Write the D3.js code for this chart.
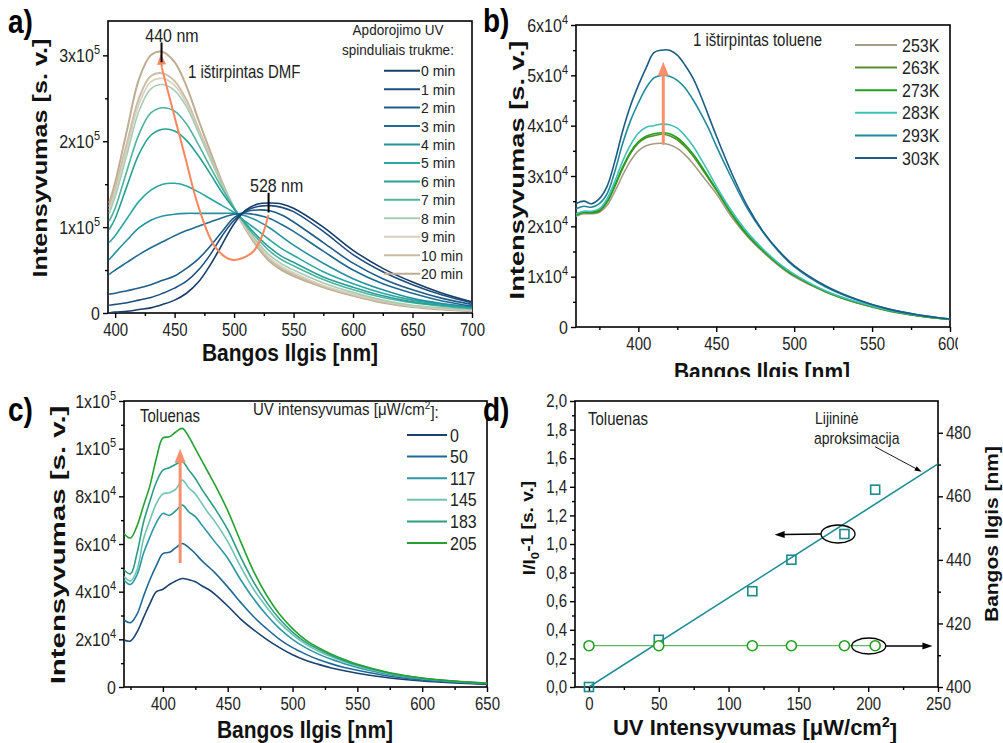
<!DOCTYPE html>
<html><head><meta charset="utf-8">
<script src="https://cdn.jsdelivr.net/npm/d3@7"></script>
<style>
body{margin:0;background:#fff;}
svg{font-family:Arial,"Liberation Sans",sans-serif;}
</style></head><body>
<svg id="chart" width="1003" height="743"></svg>
<script>
// ---------------- DATA ----------------
// Panel a: emission spectra in DMF vs UV treatment time (values x1e5)
const A_WL = [395,400,410,420,430,440,450,460,470,480,490,500,510,520,530,540,550,575,600,625,650,675,700];
const A_NAMES = ["0 min","1 min","2 min","3 min","4 min","5 min","6 min","7 min","8 min","9 min","10 min","20 min"];
const A_0  = [0.00,0.01,0.02,0.04,0.06,0.10,0.15,0.23,0.36,0.56,0.80,1.04,1.20,1.27,1.28,1.27,1.22,1.00,0.73,0.52,0.36,0.23,0.13];
const A_1  = [0.09,0.10,0.12,0.15,0.18,0.23,0.29,0.37,0.50,0.68,0.90,1.08,1.19,1.24,1.25,1.23,1.18,0.95,0.68,0.48,0.33,0.21,0.12];
const A_2  = [0.22,0.23,0.26,0.29,0.33,0.38,0.43,0.52,0.63,0.78,0.95,1.11,1.18,1.20,1.19,1.14,1.06,0.82,0.58,0.40,0.27,0.17,0.10];
const A_3  = [0.45,0.50,0.59,0.68,0.76,0.83,0.90,0.96,1.01,1.06,1.11,1.15,1.16,1.14,1.10,1.03,0.95,0.72,0.50,0.34,0.23,0.14,0.08];
const A_4  = [0.62,0.70,0.85,0.99,1.08,1.13,1.15,1.16,1.16,1.16,1.16,1.16,1.13,1.07,0.99,0.89,0.79,0.58,0.40,0.27,0.17,0.11,0.07];
const A_5  = [0.82,0.90,1.10,1.30,1.43,1.50,1.51,1.48,1.41,1.33,1.25,1.17,1.06,0.96,0.85,0.75,0.67,0.48,0.34,0.23,0.15,0.10,0.06];
const A_6  = [0.97,1.10,1.48,1.85,2.07,2.14,2.12,2.01,1.83,1.62,1.40,1.21,1.04,0.89,0.76,0.66,0.59,0.42,0.30,0.20,0.13,0.09,0.06];
const A_7  = [1.07,1.22,1.66,2.08,2.33,2.39,2.35,2.20,1.96,1.70,1.45,1.22,1.02,0.86,0.72,0.62,0.55,0.39,0.27,0.18,0.12,0.08,0.05];
const A_8  = [1.16,1.35,1.85,2.35,2.61,2.66,2.59,2.40,2.10,1.79,1.49,1.23,1.00,0.82,0.67,0.57,0.50,0.35,0.24,0.15,0.09,0.06,0.04];
const A_9  = [1.20,1.40,1.92,2.43,2.69,2.73,2.65,2.44,2.12,1.80,1.49,1.22,0.99,0.80,0.64,0.54,0.47,0.32,0.22,0.14,0.08,0.05,0.03];
const A_10 = [1.24,1.45,1.98,2.50,2.76,2.79,2.70,2.48,2.15,1.82,1.50,1.22,0.98,0.78,0.62,0.52,0.45,0.31,0.21,0.13,0.08,0.05,0.03];
const A_20 = [1.28,1.52,2.13,2.72,3.00,3.04,2.92,2.64,2.25,1.88,1.52,1.22,0.97,0.76,0.60,0.50,0.43,0.30,0.20,0.12,0.07,0.04,0.02];
const A_SERIES = [A_0,A_1,A_2,A_3,A_4,A_5,A_6,A_7,A_8,A_9,A_10,A_20];
const A_ARROW_WL = [528.8,523.3,514.9,498,484,470,458.8,447.6,439.2,438.4];
const A_ARROW_V  = [1.14,0.89,0.70,0.62,0.77,1.24,1.82,2.41,2.86,2.95];
const A_X_TICKS = [400,450,500,550,600,650,700];
const A_X_MINOR = [425,475,525,575,625,675];
const A_Y_TICKS = [0,1,2,3];
const A_Y_LABELS = ["0","1x10^5","2x10^5","3x10^5"];
const A_Y_MINOR = [0.5,1.5,2.5];

// Panel b: spectra in toluene vs temperature (values x1e4)
const B_WL = [360,365,370,375,380,385,390,395,400,405,410,415,420,425,430,435,440,445,450,460,470,480,490,500,520,540,560,580,600];
const B_NAMES = ["253K","263K","273K","283K","293K","303K"];
const B_253 = [2.20,2.25,2.25,2.28,2.42,2.70,3.02,3.30,3.50,3.60,3.64,3.65,3.62,3.55,3.42,3.25,3.05,2.85,2.65,2.18,1.80,1.49,1.22,1.00,0.70,0.48,0.32,0.22,0.15];
const B_263 = [2.25,2.27,2.26,2.30,2.48,2.80,3.15,3.45,3.65,3.76,3.80,3.83,3.80,3.72,3.58,3.40,3.18,2.95,2.72,2.23,1.82,1.51,1.24,1.02,0.70,0.48,0.33,0.22,0.15];
const B_273 = [2.22,2.28,2.28,2.32,2.50,2.82,3.18,3.48,3.68,3.79,3.84,3.86,3.84,3.76,3.62,3.44,3.22,2.98,2.74,2.25,1.84,1.52,1.25,1.03,0.71,0.49,0.33,0.22,0.15];
const B_283 = [2.25,2.30,2.30,2.35,2.55,2.90,3.30,3.62,3.85,3.97,4.00,4.03,4.02,3.95,3.80,3.60,3.35,3.08,2.80,2.30,1.88,1.55,1.27,1.05,0.72,0.50,0.34,0.23,0.16];
const B_293 = [2.35,2.40,2.38,2.45,2.65,3.10,3.65,4.10,4.45,4.75,4.95,5.00,4.98,4.90,4.75,4.52,4.25,3.95,3.60,2.95,2.35,1.88,1.50,1.20,0.80,0.54,0.36,0.24,0.16];
const B_303 = [2.45,2.50,2.45,2.55,2.80,3.30,3.90,4.40,4.80,5.15,5.45,5.50,5.50,5.40,5.20,4.95,4.60,4.20,3.80,3.05,2.40,1.90,1.52,1.22,0.82,0.55,0.36,0.24,0.16];
const B_SERIES = [B_253,B_263,B_273,B_283,B_293,B_303];
const B_ARROW_WL = [416,416];
const B_ARROW_V = [3.62,5.27];
const B_X_TICKS = [400,450,500,550,600];
const B_X_MINOR = [375,425,475,525,575];
const B_Y_TICKS = [0,1,2,3,4,5,6];
const B_Y_LABELS = ["0","1x10^4","2x10^4","3x10^4","4x10^4","5x10^4","6x10^4"];
const B_Y_MINOR = [0.5,1.5,2.5,3.5,4.5,5.5];

// Panel c: spectra in toluene vs UV intensity (values x1e4)
const C_WL = [370,375,380,385,390,395,400,405,410,415,420,425,430,435,440,450,460,470,480,490,500,510,520,530,540,550,575,600,625,650];
const C_NAMES = ["0","50","117","145","183","205"];
const C_0   = [1.97,1.93,2.30,2.90,3.50,4.00,4.10,4.30,4.45,4.55,4.50,4.42,4.25,4.10,3.90,3.40,2.85,2.40,2.00,1.65,1.35,1.12,0.95,0.80,0.68,0.58,0.38,0.25,0.17,0.11];
const C_50  = [2.81,2.70,3.05,3.80,4.50,5.10,5.60,5.65,5.85,6.02,5.85,5.60,5.30,5.05,4.80,4.20,3.55,2.95,2.45,2.00,1.65,1.38,1.15,0.97,0.82,0.70,0.45,0.29,0.20,0.13];
const C_117 = [4.49,4.30,4.70,5.60,6.30,6.90,7.28,7.20,7.40,7.63,7.35,7.15,6.80,6.45,6.10,5.40,4.50,3.70,3.02,2.45,2.00,1.65,1.38,1.16,0.98,0.82,0.52,0.34,0.22,0.15];
const C_145 = [4.63,4.45,4.90,6.20,7.00,7.70,8.10,8.15,8.30,8.68,8.35,8.10,7.70,7.30,6.95,6.10,5.05,4.10,3.35,2.70,2.20,1.80,1.50,1.27,1.06,0.88,0.56,0.36,0.24,0.16];
const C_183 = [4.91,4.75,5.60,6.90,7.80,8.60,9.10,9.20,9.35,9.45,9.10,8.75,8.30,7.90,7.50,6.60,5.45,4.40,3.55,2.85,2.30,1.88,1.58,1.32,1.10,0.92,0.58,0.37,0.24,0.16];
const C_205 = [6.44,6.25,6.75,7.60,8.45,9.60,10.45,10.50,10.70,10.85,10.50,10.00,9.50,9.00,8.50,7.40,6.10,4.85,3.85,3.05,2.45,1.98,1.65,1.38,1.15,0.95,0.60,0.38,0.25,0.17];
const C_SERIES = [C_0,C_50,C_117,C_145,C_183,C_205];
const C_ARROW_WL = [413.3,413.3];
const C_ARROW_V = [5.2,10.0];
const C_X_TICKS = [400,450,500,550,600,650];
const C_X_MINOR = [375,425,475,525,575,625];
const C_Y_TICKS = [0,2,4,6,8,10,12];
const C_Y_LABELS = ["0","2x10^4","4x10^4","6x10^4","8x10^4","1x10^5","1x10^5"];
const C_Y_MINOR = [1,3,5,7,9,11];

// Panel d: I/I0-1 and peak wavelength vs UV intensity
const D_UV = [0,50,117,145,183,205];
const D_RATIO = [0.0,0.33,0.67,0.89,1.07,1.38];
const D_PEAK = [413,413,413,413,413,413];
const D_FIT_X = [0,250];
const D_FIT_Y = [0,1.56];
const D_X_TICKS = [0,50,100,150,200,250];
const D_X_MINOR = [25,75,125,175,225];
const D_YL_TICKS = [0,0.2,0.4,0.6,0.8,1.0,1.2,1.4,1.6,1.8,2.0];
const D_YL_LABELS = ["0,0","0,2","0,4","0,6","0,8","1,0","1,2","1,4","1,6","1,8","2,0"];
const D_YL_MINOR = [0.1,0.3,0.5,0.7,0.9,1.1,1.3,1.5,1.7,1.9];
const D_YR_TICKS = [400,420,440,460,480];
const D_YR_MINOR = [410,430,450,470];

// ---------------- STYLE ----------------
const A_COLORS = ["#173d6a","#1d4e7e","#1d5d88","#1f6c90","#2592a0","#2aa6a3","#27a096","#4fb39d","#a6cdb6","#d8cfbd","#cbbda5","#bfad93"];
const B_COLORS = ["#a59c86","#5b8b2b","#1ca21c","#40c0b6","#1f8a9b","#1b5c85"];
const C_COLORS = ["#1b416e","#1f6895","#2b98a4","#6fc3b2","#2b9e82","#26a032"];
const ORANGE = "#f7875e";
const SY = 1.18; // vertical stretch of text seen in the reference

const svg = d3.select("#chart");
const defs = svg.append("defs");
let clipId = 0;

function setLabel(sel, label, supSize){
  sel.text(null);
  const parts = String(label).split("^");
  sel.append("tspan").text(parts[0]);
  if(parts.length>1) sel.append("tspan").attr("dy","-0.6em").attr("font-size",supSize||10).text(parts[1]);
}

function styleAxis(ax, fs){
  ax.select(".domain").remove();
  ax.selectAll(".tick line").attr("stroke","#000").attr("stroke-width",1.4);
  ax.selectAll(".tick text").attr("fill","#222").attr("font-size",fs||15)
    .attr("font-family","Arial, 'Liberation Sans', sans-serif").attr("transform",`scale(1,${SY})`);
}

function panel(o, parent){
  const g = (parent||svg).append("g");
  const x = d3.scaleLinear().domain(o.xDomain).range([o.x0,o.x1]);
  const y = d3.scaleLinear().domain(o.yDomain).range([o.y1,o.y0]);
  const id = "clip"+(clipId++);
  defs.append("clipPath").attr("id",id).append("rect")
    .attr("x",o.x0).attr("y",o.y0).attr("width",o.x1-o.x0).attr("height",o.y1-o.y0);
  const bx = g.append("g").attr("transform",`translate(0,${o.y1})`)
    .call(d3.axisBottom(x).tickValues(o.xTicks).tickSize(5).tickSizeOuter(0).tickPadding(4).tickFormat(d=>String(d)));
  styleAxis(bx, 15);
  const bxm = g.append("g").attr("transform",`translate(0,${o.y1})`)
    .call(d3.axisBottom(x).tickValues(o.xMinor).tickSize(3).tickSizeOuter(0).tickFormat(""));
  styleAxis(bxm);
  const ly = g.append("g").attr("transform",`translate(${o.x0},0)`)
    .call(d3.axisLeft(y).tickValues(o.yTicks).tickSize(5).tickSizeOuter(0).tickPadding(3).tickFormat(""));
  styleAxis(ly, o.yFont||16);
  ly.selectAll(".tick text").each(function(d,i){ setLabel(d3.select(this), o.yLabels[i], 11); });
  const lym = g.append("g").attr("transform",`translate(${o.x0},0)`)
    .call(d3.axisLeft(y).tickValues(o.yMinor).tickSize(3).tickSizeOuter(0).tickFormat(""));
  styleAxis(lym);
  g.append("rect").attr("x",o.x0).attr("y",o.y0).attr("width",o.x1-o.x0).attr("height",o.y1-o.y0)
    .attr("fill","none").attr("stroke","#000").attr("stroke-width",1.6);
  const plot = g.append("g").attr("clip-path",`url(#${id})`);
  return {g, x, y, plot};
}

function arrow(g, p0, p1, color, sw, hl, hw){
  const dx = p1[0]-p0[0], dy = p1[1]-p0[1];
  const L = Math.hypot(dx,dy), ux = dx/L, uy = dy/L;
  const bx = p1[0]-ux*hl, by = p1[1]-uy*hl;
  g.append("line").attr("x1",p0[0]).attr("y1",p0[1]).attr("x2",bx+ux*1).attr("y2",by+uy*1)
    .attr("stroke",color).attr("stroke-width",sw);
  g.append("path").attr("d",`M${p1[0]},${p1[1]}L${bx - uy*hw/2},${by + ux*hw/2}L${bx + uy*hw/2},${by - ux*hw/2}Z`)
    .attr("fill",color);
}

function txt(g, x, y, size, opts){
  opts = opts||{};
  const s = opts.sy||SY;
  const t = g.append("text").attr("transform",`translate(${x},${y}) scale(1,${s})`)
    .attr("font-size",size).attr("fill",opts.fill||"#222").attr("text-anchor",opts.anchor||"start");
  if(opts.bold) t.attr("font-weight","bold");
  return t;
}

function rotTitle(g, x, y, size, k){
  return g.append("text").attr("transform",`translate(${x},${y}) rotate(-90) scale(${k},1)`)
    .attr("text-anchor","middle").attr("font-size",size).attr("font-weight","bold").attr("fill","#111");
}

// ---------------- PANEL A ----------------
{
  const P = panel({x0:108,x1:472,y0:21,y1:313,xDomain:[394,700],yDomain:[0,3.4],
    xTicks:A_X_TICKS,xMinor:A_X_MINOR,yTicks:A_Y_TICKS,yLabels:A_Y_LABELS,yMinor:A_Y_MINOR});
  const line = d3.line().x((d,i)=>P.x(A_WL[i])).y(d=>P.y(d)).curve(d3.curveCatmullRom.alpha(0.5));
  A_SERIES.slice().reverse().forEach((s,j)=>{
    const i = A_SERIES.length-1-j;
    P.plot.append("path").datum(s).attr("d",line).attr("fill","none")
      .attr("stroke",A_COLORS[i]).attr("stroke-width", i>=10 ? 2 : 1.6);
  });
  const pts = A_ARROW_WL.map((w,i)=>[P.x(w),P.y(A_ARROW_V[i])]);
  const body = pts.slice(0,pts.length-1);
  P.plot.append("path").datum(body).attr("d",d3.line().curve(d3.curveCatmullRom.alpha(0.5)))
    .attr("fill","none").attr("stroke",ORANGE).attr("stroke-width",2);
  arrow(P.plot, body[body.length-1], [pts[pts.length-1][0], pts[pts.length-1][1]-6], ORANGE, 2, 11, 9);
  P.g.append("line").attr("x1",P.x(439)).attr("x2",P.x(439)).attr("y1",P.y(3.15)).attr("y2",P.y(2.92))
    .attr("stroke","#000").attr("stroke-width",2);
  P.g.append("line").attr("x1",P.x(529)).attr("x2",P.x(529)).attr("y1",P.y(1.40)).attr("y2",P.y(1.17))
    .attr("stroke","#000").attr("stroke-width",2);
  txt(svg,172,42,16,{anchor:"middle"}).text("440 nm");
  txt(svg,250,192,16).text("528 nm");
  txt(svg,188,78,15).text("1 ištirpintas DMF");
  txt(svg,398,35,13.5,{anchor:"middle",sy:1.1}).text("Apdorojimo UV");
  txt(svg,398,55,13.5,{anchor:"middle",sy:1.1}).text("spinduliais trukme:");
  A_NAMES.forEach((n,i)=>{
    const yy = 70.7 + i*18.45;
    svg.append("line").attr("x1",384).attr("x2",420).attr("y1",yy).attr("y2",yy)
      .attr("stroke",A_COLORS[i]).attr("stroke-width",2);
    txt(svg,421,yy+5.5,14,{sy:1.1}).text(n);
  });
  txt(svg,8,33,28,{bold:true,fill:"#000"}).text("a)");
  rotTitle(svg,47,158,21,1.2).text("Intensyvumas [s. v.]");
  txt(svg,290,361,21,{anchor:"middle",bold:true,fill:"#111"}).text("Bangos Ilgis [nm]");
}

// ---------------- PANEL B ----------------
{
  defs.append("clipPath").attr("id","clipB").append("rect").attr("x",470).attr("y",0).attr("width",488).attr("height",377);
  const outer = svg.append("g").attr("clip-path","url(#clipB)");
  const P = panel({x0:576,x1:950,y0:25,y1:327,xDomain:[360,600],yDomain:[0,6],
    xTicks:B_X_TICKS,xMinor:B_X_MINOR,yTicks:B_Y_TICKS,yLabels:B_Y_LABELS,yMinor:B_Y_MINOR}, outer);
  const line = d3.line().x((d,i)=>P.x(B_WL[i])).y(d=>P.y(d)).curve(d3.curveCatmullRom.alpha(0.5));
  B_SERIES.forEach((s,i)=>{
    P.plot.append("path").datum(s).attr("d",line).attr("fill","none")
      .attr("stroke",B_COLORS[i]).attr("stroke-width",1.6);
  });
  arrow(P.plot,[P.x(B_ARROW_WL[0]),P.y(B_ARROW_V[0])],[P.x(B_ARROW_WL[1]),P.y(B_ARROW_V[1])],"#f7906c",3,14,11);
  txt(svg,693,46,15).text("1 ištirpintas toluene");
  B_NAMES.forEach((n,i)=>{
    const yy = 45 + i*22.6;
    svg.append("line").attr("x1",855).attr("x2",897).attr("y1",yy).attr("y2",yy)
      .attr("stroke",B_COLORS[i]).attr("stroke-width",2);
    txt(svg,902,yy+6.5,16).text(n);
  });
  txt(svg,483,32,28,{bold:true,fill:"#000"}).text("b)");
  rotTitle(svg,524,170,21,1.3).text("Intensyvumas [s. v.]");
  txt(outer,762,380,21,{anchor:"middle",bold:true,fill:"#111"}).text("Bangos Ilgis [nm]");
}

// ---------------- PANEL C ----------------
{
  const P = panel({x0:124,x1:487,y0:401,y1:687,xDomain:[370,650],yDomain:[0,12],
    xTicks:C_X_TICKS,xMinor:C_X_MINOR,yTicks:C_Y_TICKS,yLabels:C_Y_LABELS,yMinor:C_Y_MINOR});
  const line = d3.line().x((d,i)=>P.x(C_WL[i])).y(d=>P.y(d)).curve(d3.curveCatmullRom.alpha(0.5));
  C_SERIES.forEach((s,i)=>{
    P.plot.append("path").datum(s).attr("d",line).attr("fill","none")
      .attr("stroke",C_COLORS[i]).attr("stroke-width",1.6);
  });
  arrow(P.plot,[P.x(C_ARROW_WL[0]),P.y(C_ARROW_V[0])],[P.x(C_ARROW_WL[1]),P.y(C_ARROW_V[1])],"#f7906c",3,14,11);
  txt(svg,140,422,15).text("Toluenas");
  const lt = txt(svg,253,415,15,{sy:1.1});
  lt.append("tspan").text("UV intensyvumas [μW/cm");
  lt.append("tspan").attr("dy","-0.55em").attr("font-size",10).text("2");
  lt.append("tspan").attr("dy","0.55em").text("]:");
  C_NAMES.forEach((n,i)=>{
    const yy = 435 + i*21.6;
    svg.append("line").attr("x1",407).attr("x2",447).attr("y1",yy).attr("y2",yy)
      .attr("stroke",C_COLORS[i]).attr("stroke-width",2);
    txt(svg,450,yy+6.5,16).text(n);
  });
  txt(svg,8,421,28,{bold:true,fill:"#000"}).text("c)");
  rotTitle(svg,65,545,21,1.4).text("Intensyvumas [s. v.]");
  txt(svg,305,738,21,{anchor:"middle",bold:true,fill:"#111"}).text("Bangos Ilgis [nm]");
}

// ---------------- PANEL D ----------------
{
  const P = panel({x0:575,x1:938,y0:401,y1:687,xDomain:[-10,250],yDomain:[0,2],yFont:15,
    xTicks:D_X_TICKS,xMinor:D_X_MINOR,yTicks:D_YL_TICKS,yLabels:D_YL_LABELS,yMinor:D_YL_MINOR});
  const yR = d3.scaleLinear().domain([400,490]).range([687,401]);
  const ra = P.g.append("g").attr("transform","translate(938,0)")
    .call(d3.axisRight(yR).tickValues(D_YR_TICKS).tickSize(5).tickSizeOuter(0).tickPadding(3).tickFormat(d=>String(d)));
  styleAxis(ra, 15);
  const ram = P.g.append("g").attr("transform","translate(938,0)")
    .call(d3.axisRight(yR).tickValues(D_YR_MINOR).tickSize(3).tickSizeOuter(0).tickFormat(""));
  styleAxis(ram);
  P.plot.append("line").attr("x1",P.x(D_FIT_X[0])).attr("y1",P.y(D_FIT_Y[0]))
    .attr("x2",P.x(D_FIT_X[1])).attr("y2",P.y(D_FIT_Y[1])).attr("stroke","#1b8d94").attr("stroke-width",1.6);
  P.plot.append("path").datum(D_PEAK).attr("d",d3.line().x((d,i)=>P.x(D_UV[i])).y(d=>yR(d)))
    .attr("fill","none").attr("stroke","#3aa83a").attr("stroke-width",1);
  const all = P.g.append("g");
  all.selectAll("rect.sq").data(D_RATIO).enter().append("rect")
    .attr("x",(d,i)=>P.x(D_UV[i])-4.5).attr("y",d=>P.y(d)-4.5).attr("width",9).attr("height",9)
    .attr("fill","none").attr("stroke","#1b8a8a").attr("stroke-width",1.6);
  all.selectAll("circle").data(D_PEAK).enter().append("circle")
    .attr("cx",(d,i)=>P.x(D_UV[i])).attr("cy",d=>yR(d)).attr("r",5)
    .attr("fill","#fff").attr("stroke","#22a022").attr("stroke-width",1.6);
  P.g.append("ellipse").attr("cx",P.x(178.4)).attr("cy",P.y(1.07)).attr("rx",17).attr("ry",9)
    .attr("fill","none").attr("stroke","#000").attr("stroke-width",1.3);
  arrow(P.g,[P.x(178.4)-17,P.y(1.07)],[P.x(133),P.y(1.065)],"#000",1.6,10,7);
  P.g.append("ellipse").attr("cx",P.x(200.4)).attr("cy",yR(412.9)).attr("rx",17).attr("ry",8)
    .attr("fill","none").attr("stroke","#000").attr("stroke-width",1.3);
  arrow(P.g,[P.x(200.4)+17,yR(412.9)],[P.x(246),yR(412.9)],"#000",1.6,10,7);
  arrow(P.g,[875,446.7],[921.7,471.7],"#000",0.9,7,5);
  txt(svg,815,424,14).text("Lijininė");
  txt(svg,814,444,14).text("aproksimacija");
  txt(svg,588,425,15).text("Toluenas");
  txt(svg,483,421,28,{bold:true,fill:"#000"}).text("d)");
  const lt = rotTitle(svg,535,528,16,1.2);
  lt.append("tspan").text("I/I");
  lt.append("tspan").attr("dy","0.35em").attr("font-size",11).text("0");
  lt.append("tspan").attr("dy","-0.35em").text("-1 [s. v.]");
  rotTitle(svg,998,534,17.5,1.2).text("Bangos Ilgis [nm]");
  const xt = txt(svg,755,735,22,{anchor:"middle",bold:true,fill:"#111",sy:1.0});
  xt.append("tspan").text("UV Intensyvumas [μW/cm");
  xt.append("tspan").attr("dy","-0.55em").attr("font-size",14).text("2");
  xt.append("tspan").attr("dy","0.55em").text("]");
}
</script></body></html>
